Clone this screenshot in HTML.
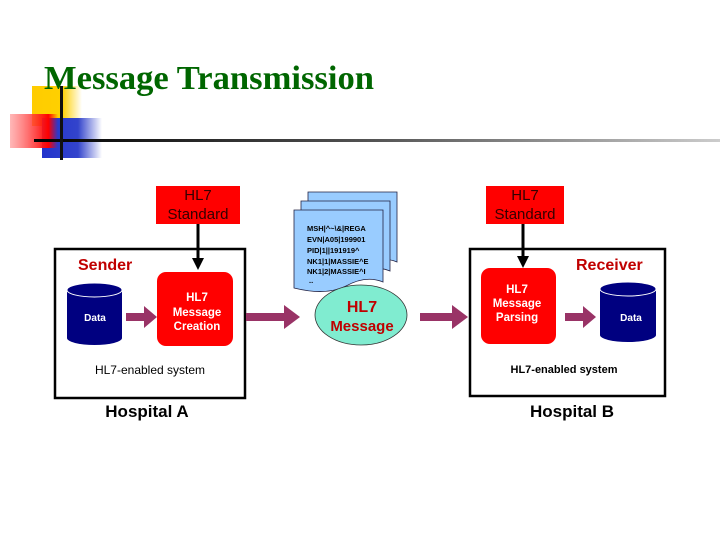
<!DOCTYPE html>
<html><head><style>
body{margin:0;width:720px;height:540px;background:#fff;position:relative;overflow:hidden;font-family:"Liberation Sans",sans-serif}
</style></head><body>
<svg width="720" height="540" xmlns="http://www.w3.org/2000/svg" style="position:absolute;left:0;top:0">
<defs>
<linearGradient id="gr" x1="0" x2="1"><stop offset="0" stop-color="#f88" stop-opacity=".6"/><stop offset=".8" stop-color="#f00"/><stop offset="1" stop-color="#f00" stop-opacity="0"/></linearGradient>
<linearGradient id="gb" x1="0" x2="1"><stop offset="0" stop-color="#2233cc"/><stop offset=".6" stop-color="#3344cc"/><stop offset="1" stop-color="#3344cc" stop-opacity="0"/></linearGradient>
<linearGradient id="gy" x1="0" x2="1"><stop offset="0" stop-color="#ffcc00"/><stop offset=".6" stop-color="#ffd000"/><stop offset="1" stop-color="#ffd000" stop-opacity="0"/></linearGradient>
<linearGradient id="gl" x1="0" x2="1"><stop offset="0" stop-color="#000"/><stop offset=".5" stop-color="#555"/><stop offset="1" stop-color="#ccc"/></linearGradient>
<marker id="ab" markerWidth="4" markerHeight="4" refX="2" refY="2" orient="auto" markerUnits="strokeWidth"><path d="M0,0 L4,2 L0,4z" fill="#000"/></marker>
</defs>
<rect x="32" y="86" width="50" height="40" fill="url(#gy)"/>
<rect x="42" y="118" width="60" height="40" fill="url(#gb)"/>
<rect x="10" y="114" width="48" height="34" fill="url(#gr)"/>
<rect x="34" y="139" width="686" height="3" fill="url(#gl)"/>
<rect x="60" y="86" width="3" height="74" fill="#111"/>
<text x="44" y="89" font-family="Liberation Serif,serif" font-weight="bold" font-size="34" fill="#006600" textLength="330" lengthAdjust="spacingAndGlyphs">Message Transmission</text>

<rect x="55" y="249" width="190" height="149" fill="none" stroke="#000" stroke-width="2.5"/>
<rect x="470" y="249" width="195" height="147" fill="none" stroke="#000" stroke-width="2.5"/>

<rect x="156" y="186" width="84" height="38" fill="#ff0000"/>
<text x="198" y="200" text-anchor="middle" font-size="15" fill="#300">HL7</text>
<text x="198" y="219" text-anchor="middle" font-size="15" fill="#300">Standard</text>
<line x1="198" y1="224" x2="198" y2="264" stroke="#000" stroke-width="3" marker-end="url(#ab)"/>
<rect x="486" y="186" width="78" height="38" fill="#ff0000"/>
<text x="525" y="200" text-anchor="middle" font-size="15" fill="#300">HL7</text>
<text x="525" y="219" text-anchor="middle" font-size="15" fill="#300">Standard</text>
<line x1="523" y1="224" x2="523" y2="262" stroke="#000" stroke-width="3" marker-end="url(#ab)"/>

<text x="78" y="270" font-size="16" font-weight="bold" fill="#c00000">Sender</text>
<text x="576" y="270" font-size="16" font-weight="bold" fill="#c00000">Receiver</text>

<path d="M67,290 L67,338 A27.5,7 0 0 0 122,338 L122,290 Z" fill="#000080"/>
<ellipse cx="94.5" cy="290" rx="27.5" ry="7" fill="#000080" stroke="#fff" stroke-width="1"/>
<text x="95" y="321" text-anchor="middle" font-size="10" font-weight="bold" fill="#fff">Data</text>
<path d="M600,289 L600,335 A28,7 0 0 0 656,335 L656,289 Z" fill="#000080"/>
<ellipse cx="628" cy="289" rx="28" ry="7" fill="#000080" stroke="#fff" stroke-width="1"/>
<text x="631" y="321" text-anchor="middle" font-size="10" font-weight="bold" fill="#fff">Data</text>

<rect x="157" y="272" width="76" height="74" rx="9" fill="#ff0000"/>
<text x="197" y="301" text-anchor="middle" font-size="11.5" font-weight="bold" fill="#fff">HL7</text>
<text x="197" y="316" text-anchor="middle" font-size="11.5" font-weight="bold" fill="#fff">Message</text>
<text x="197" y="330" text-anchor="middle" font-size="11.5" font-weight="bold" fill="#fff">Creation</text>
<rect x="481" y="268" width="75" height="76" rx="9" fill="#ff0000"/>
<text x="517" y="293" text-anchor="middle" font-size="11.5" font-weight="bold" fill="#fff">HL7</text>
<text x="517" y="307" text-anchor="middle" font-size="11.5" font-weight="bold" fill="#fff">Message</text>
<text x="517" y="321" text-anchor="middle" font-size="11.5" font-weight="bold" fill="#fff">Parsing</text>

<g fill="#993366">
<path d="M126,313 h18 v-7 l13,11 l-13,11 v-7 h-18z"/>
<path d="M246,313 h38 v-8 l16,12 l-16,12 v-8 h-38z"/>
<path d="M420,313 h32 v-8 l16,12 l-16,12 v-8 h-32z"/>
<path d="M565,313 h18 v-7 l13,11 l-13,11 v-7 h-18z"/>
</g>

<g stroke="#224" stroke-width="0.8" fill="#99ccff">
<path d="M308,192 H397 V262 Q380,255 360,266 Q340,276 308,268 Z"/>
<path d="M301,201 H390 V271 Q373,264 353,275 Q333,285 301,277 Z"/>
<path d="M294,210 H383 V282 Q366,275 346,286 Q326,296 294,288 Z"/>
</g>
<g font-size="7.5" font-weight="bold" font-family="Liberation Sans,sans-serif" fill="#000">
<text x="307" y="231">MSH|^~\&amp;|REGA</text>
<text x="307" y="242">EVN|A05|199901</text>
<text x="307" y="253">PID|1||191919^</text>
<text x="307" y="264">NK1|1|MASSIE^E</text>
<text x="307" y="274">NK1|2|MASSIE^I</text>
<text x="309" y="283">..</text>
</g>
<ellipse cx="361" cy="315" rx="46" ry="30" fill="#80ecd0" stroke="#333" stroke-width="0.8"/>
<text x="362" y="312" text-anchor="middle" font-size="16" font-weight="bold" fill="#c00000">HL7</text>
<text x="362" y="331" text-anchor="middle" font-size="15" font-weight="bold" fill="#c00000">Message</text>

<text x="150" y="374" text-anchor="middle" font-size="12" fill="#000">HL7-enabled system</text>
<text x="564" y="373" text-anchor="middle" font-size="11" font-weight="bold" fill="#000">HL7-enabled system</text>
<text x="147" y="417" text-anchor="middle" font-size="17" font-weight="bold" fill="#000">Hospital A</text>
<text x="572" y="417" text-anchor="middle" font-size="17" font-weight="bold" fill="#000">Hospital B</text>
</svg>
</body></html>
